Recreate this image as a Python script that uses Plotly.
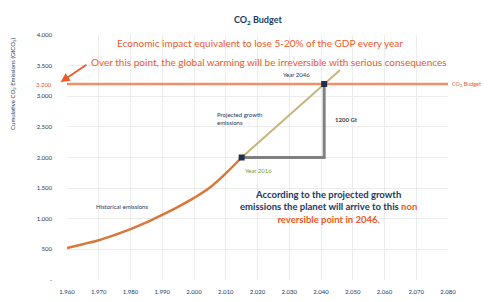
import plotly.graph_objects as go

# Data
hist_years = [1960, 1965, 1970, 1975, 1980, 1985, 1990, 1995, 2000, 2005, 2010, 2015]
hist_values = [520, 585, 650, 735, 830, 940, 1065, 1195, 1340, 1510, 1740, 2000]
proj_years = [2015, 2041, 2046]
proj_values = [2000, 3200, 3430]
budget = 3200
budget_label = "3.200"
key_years = [2015, 2041]
key_values = [2000, 3200]
x_ticks = list(range(1960, 2081, 10))
x_ticklabels = [f"{v//1000}.{v%1000:03d}" for v in x_ticks]
y_ticks = list(range(0, 4001, 500))
y_ticklabels = ["-" if v == 0 else (f"{v//1000}.{v%1000:03d}" if v >= 1000 else str(v)) for v in y_ticks]

NAVY = "#203864"
ORANGE = "#ec5a28"
FONT = "Lato"

fig = go.Figure()

# budget line
fig.add_trace(go.Scatter(x=[x_ticks[0], x_ticks[-1]], y=[budget, budget], mode="lines",
                         line=dict(color="#f29065", width=2.5), hoverinfo="skip", cliponaxis=False))
# historical
fig.add_trace(go.Scatter(x=hist_years, y=hist_values, mode="lines",
                         line=dict(color="#d9763a", width=2.5, shape="spline"), hoverinfo="skip"))
# projected
fig.add_trace(go.Scatter(x=proj_years, y=proj_values, mode="lines", line=dict(color="#c8b47a", width=2),
                         hoverinfo="skip"))
# gray elbow
fig.add_trace(go.Scatter(x=[key_years[0], key_years[1], key_years[1]],
                         y=[key_values[0], key_values[0], key_values[1]], mode="lines",
                         line=dict(color="#808080", width=3), hoverinfo="skip"))
# key points
fig.add_trace(go.Scatter(x=key_years, y=key_values, mode="markers",
                         marker=dict(color="#1f3050", size=6, symbol="square"), hoverinfo="skip"))

ann = [
    dict(x=0.5, y=1.0, xref="paper", yref="paper", yanchor="bottom", yshift=7,
         text="<b>CO<sub>2</sub> Budget</b>", showarrow=False, font=dict(size=9, color=NAVY)),
    dict(x=2020.8, y=3870, text="Economic impact equivalent to lose 5-20% of the GDP every year",
         showarrow=False, font=dict(size=10, color=ORANGE)),
    dict(x=2023.6, y=3560, text="Over this point, the global warming will be irreversible with serious consequences",
         showarrow=False, font=dict(size=10, color=ORANGE)),
    dict(x=1958.0, y=3233, ax=1966.6, ay=3530, axref="x", ayref="y", xref="x", yref="y", text="",
         showarrow=True, arrowhead=2, arrowsize=1, arrowwidth=1.8, arrowcolor=ORANGE),
    dict(x=1.0, y=budget, xref="paper", xanchor="left", xshift=2, text="CO<sub>2</sub> Budget", showarrow=False,
         font=dict(size=5.5, color=ORANGE)),
    dict(x=0, y=budget, xref="paper", xanchor="right", xshift=-13, text=budget_label, showarrow=False,
         font=dict(size=6, color=ORANGE)),
    dict(x=2032.4, y=3348, text="Year 2046", showarrow=False, font=dict(size=6, color=NAVY)),
    dict(x=2006.6, y=2630, text="Projected growth<br>emissions", xanchor="left", align="left", showarrow=False,
         font=dict(size=6, color=NAVY)),
    dict(x=2020.2, y=1796, text="Year 2016", showarrow=False, font=dict(size=6, color="#6f9a3a")),
    dict(x=2043.8, y=2613, text="<b>1200 Gt</b>", xanchor="left", showarrow=False,
         font=dict(size=6, color="#404040")),
    dict(x=1977.3, y=1192, text="Historical emissions", showarrow=False, font=dict(size=6, color=NAVY)),
    dict(x=2042.5, y=1192,
         text=("<b>According to the projected growth<br>emissions the planet will arrive to this "
               f"<span style='color:{ORANGE}'>non</span><br>"
               f"<span style='color:{ORANGE}'>reversible point in 2046.</span></b>"),
         showarrow=False, align="center", font=dict(size=9.5, color=NAVY)),
    dict(x=-0.142, y=0.8, xref="paper", yref="paper", xanchor="center", yanchor="middle", textangle=-90,
         text="Cumulative CO<sub>2</sub> Emissions (GtCO<sub>2</sub>)", showarrow=False,
         font=dict(size=6, color=NAVY)),
]

# The page body adds an 8px offset; size and margins compensate so the plot sits where the reference has it.
fig.update_layout(
    width=481, height=294,
    margin=dict(l=59, r=41, t=27, b=22),
    paper_bgcolor="white", plot_bgcolor="white",
    showlegend=False,
    font=dict(family=FONT, color=NAVY, size=6),
    annotations=ann,
)
fig.update_xaxes(range=[x_ticks[0], x_ticks[-1]], tickvals=x_ticks, ticktext=x_ticklabels,
                 showgrid=True, gridcolor="#ececec", gridwidth=1, zeroline=False, showline=False,
                 tickfont=dict(size=6, color=NAVY), ticks="", ticklabelstandoff=7, automargin=False)
fig.update_yaxes(range=[0, 4000], tickvals=y_ticks, ticktext=y_ticklabels,
                 showgrid=True, gridcolor="#ececec", gridwidth=1, zeroline=False, showline=False,
                 tickfont=dict(size=6, color=NAVY), ticks="", ticklabelstandoff=14, automargin=False)

fig.write_html("out.html")
